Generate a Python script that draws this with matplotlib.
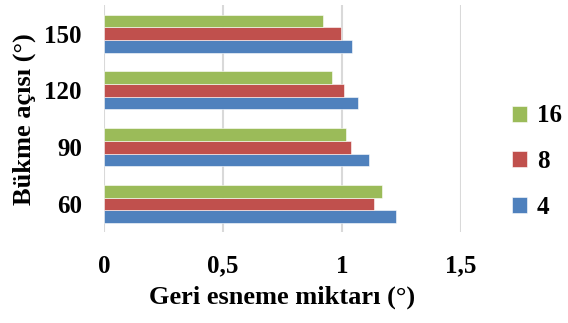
import numpy as np
import matplotlib.pyplot as plt

angles = ["60", "90", "120", "150"]
series = ["4", "8", "16"]
vals_4 = [1.228, 1.115, 1.067, 1.044]
vals_8 = [1.134, 1.039, 1.007, 0.995]
vals_16 = [1.168, 1.018, 0.960, 0.920]
colors = ["#4F81BD", "#C0504D", "#9BBB59"]

plt.rcParams["font.family"] = ["Liberation Serif", "DejaVu Serif"]
plt.rcParams["font.weight"] = "bold"

fig = plt.figure(figsize=(5.68, 3.23), dpi=100)
ax = fig.add_axes([0.1831, 0.2802, 0.6285, 0.7038])

y = np.arange(len(angles))
h = 0.222
handles = []
for i, (name, vals, c) in enumerate(zip(series, [vals_4, vals_8, vals_16], colors)):
    b = ax.barh(y + (i - 1) * h, vals, height=h, color=c, label=name,
                edgecolor="white", linewidth=0.4, zorder=3)
    handles.append(b)

ax.set_xlim(0, 1.5)
ax.set_ylim(-0.5, len(angles) - 0.5)
ax.set_xticks([0, 0.5, 1, 1.5])
ax.set_xticklabels(["0", "0,5", "1", "1,5"])
ax.set_yticks(y)
ax.set_yticklabels(angles)
ax.tick_params(axis="both", length=0, labelsize=18)
ax.tick_params(axis="y", pad=16)
ax.tick_params(axis="x", pad=16)
ax.grid(axis="x", color="#d9d9d9", linewidth=1.5, zorder=0)
for s in ax.spines.values():
    s.set_visible(False)

ax.set_xlabel("Geri esneme miktarı (°)", fontsize=19, fontweight="bold", labelpad=6)
ax.set_ylabel("Bükme açısı (°)", fontsize=19, fontweight="bold", labelpad=6)

fig.legend(handles[::-1], series[::-1], loc="center left",
           bbox_to_anchor=(0.862, 0.5), frameon=False, fontsize=18,
           handlelength=0.6, handleheight=0.6, handletextpad=0.4,
           labelspacing=0.9)

fig.savefig("out.png", dpi=100)
